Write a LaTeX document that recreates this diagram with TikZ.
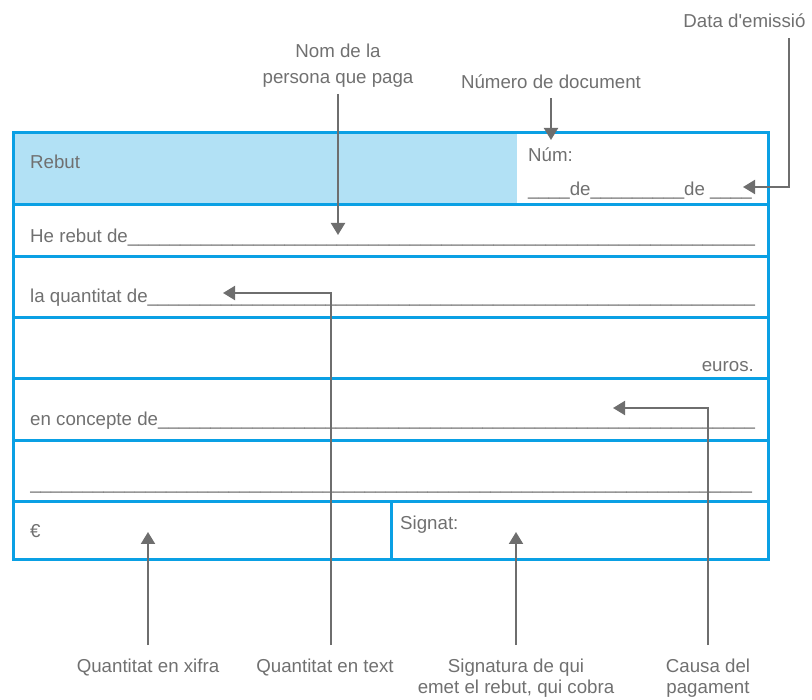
\documentclass[tikz,border=0pt]{standalone}
\usepackage{fontspec}
\setmainfont{Liberation Sans}
\usetikzlibrary{arrows.meta}

\definecolor{rbblue}{RGB}{10,160,228}
\definecolor{rbfill}{RGB}{178,225,245}
\definecolor{rbtext}{RGB}{112,112,112}
\definecolor{rbarrow}{RGB}{110,110,110}

\newcommand\formfont{\fontsize{18.7}{26}\selectfont}
\newcommand\notefont{\fontsize{18.7}{21.5}\selectfont}
% a line of text followed by underscores up to a fixed width
\newcommand\fillline[2]{\hbox to #1{#2\xleaders\hbox{\_}\hfill}}

\begin{document}
\begin{tikzpicture}[x=1pt,y=-1pt,
  rule/.style={draw=rbblue, line width=3pt},
  txt/.style={text=rbtext, font=\formfont, inner sep=0pt, anchor=base west},
  topnote/.style={text=rbtext, font=\formfont, inner sep=0pt, align=center},
  botnote/.style={text=rbtext, font=\notefont, inner sep=0pt, align=center, anchor=north},
  pointer/.style={draw=rbarrow, line width=2pt, -{Triangle[length=12pt,width=14pt]}}]
\useasboundingbox (0,0) rectangle (812,700);

% receipt form: shaded title cell, row rules, signature divider, frame
\fill[rbfill] (13,133) rectangle (517,205);
\foreach \yy in {205,257,318,379,441,502}
  \draw[rule] (13,\yy) -- (768,\yy);
\draw[rule] (391,502) -- (391,560);
\draw[rule] (13,133) rectangle (768,560);

% form texts
\node[txt] (rebut) at (30,169) {Rebut};
\node[txt] (num) at (528,162) {Núm:};
\node[txt] (date) at (528,196) {\_\_\_\_de\_\_\_\_\_\_\_\_\_de \_\_\_\_};
\node[txt] (payer) at (30,243) {\fillline{725pt}{He rebut de}};
\node[txt] (amount) at (30,303) {\fillline{725pt}{la quantitat de}};
\node[txt, anchor=base east] (euros) at (754,372) {euros.};
\node[txt] (concept) at (30,426) {\fillline{725pt}{en concepte de}};
\node[txt] (blank) at (30,490) {\fillline{722pt}{}};
\node[txt] (euro) at (30,538) {€};
\node[txt] (signat) at (400,530) {Signat:};

% callout labels
\node[topnote, anchor=north] (lnom) at (338,44) {Nom de la\\persona que paga};
\node[topnote, anchor=base] (lnumber) at (551,89) {Número de document};
\node[topnote, anchor=base] (ldata) at (744.5,28) {Data d\textquotesingle emissió};
\node[botnote] (lxifra) at (148,658.5) {Quantitat en xifra};
\node[botnote] (lqtext) at (325,658.5) {Quantitat en text};
\node[botnote] (lsign) at (516,658.5) {Signatura de qui\\emet el rebut, qui cobra};
\node[botnote] (lcausa) at (708,658.5) {Causa del\\pagament};

% pointer ends and bends
\coordinate (nomtip) at (338,235);
\coordinate (numbertip) at (551,140);
\coordinate (datacorner) at (789,187);
\coordinate (datatip) at (743,187);
\coordinate (qtcorner) at (331,293);
\coordinate (qttip) at (223,293);
\coordinate (causacorner) at (708,408);
\coordinate (causatip) at (613,408);
\coordinate (xifratip) at (148,532);
\coordinate (signtip) at (516,532);

% pointers
\draw[pointer, shorten <=6pt] (lnom.south) -- (nomtip);
\draw[pointer, shorten <=9pt] (lnumber.south) -- (numbertip);
\draw[pointer, shorten <=10pt] (ldata.south -| datacorner) -- (datacorner) -- (datatip);
\draw[pointer, shorten <=13.5pt] (lqtext.north -| qtcorner) -- (qtcorner) -- (qttip);
\draw[pointer, shorten <=13.5pt] (lcausa.north) -- (causacorner) -- (causatip);
\draw[pointer, shorten <=13.5pt] (lxifra.north) -- (xifratip);
\draw[pointer, shorten <=13.5pt] (lsign.north) -- (signtip);
\end{tikzpicture}
\end{document}
